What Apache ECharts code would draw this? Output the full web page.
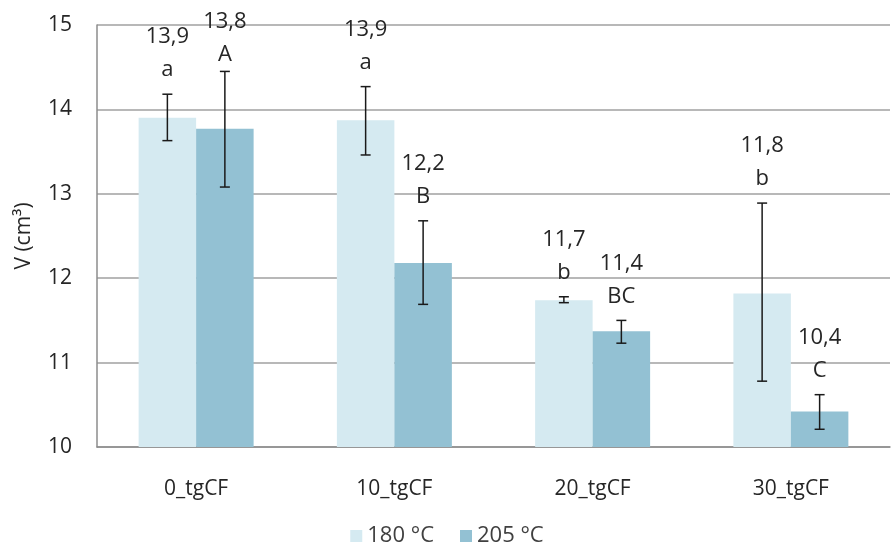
<!DOCTYPE html>
<html>
<head>
<meta charset="utf-8">
<script src="https://cdn.jsdelivr.net/npm/echarts@6/dist/echarts.min.js"></script>
<style>html,body{margin:0;padding:0;background:#fff}#c{width:894px;height:550px}</style>
</head>
<body>
<div id="c"></div>
<script>
var categories = ['0_tgCF', '10_tgCF', '20_tgCF', '30_tgCF'];
var seriesNames = ['180 °C', '205 °C'];
var values180 = [13.90, 13.87, 11.74, 11.82];
var values205 = [13.77, 12.18, 11.37, 10.42];
var errLow180 = [13.63, 13.46, 11.71, 10.78];
var errHigh180 = [14.18, 14.27, 11.78, 12.89];
var errLow205 = [13.08, 11.69, 11.23, 10.21];
var errHigh205 = [14.45, 12.68, 11.50, 10.62];
var letters180 = ['a', 'a', 'b', 'b'];
var letters205 = ['A', 'B', 'BC', 'C'];
var yTicks = [10, 11, 12, 13, 14, 15];

var FONT = '"Open Sans", "Noto Sans", sans-serif';
var colors = ['#D5EAF1', '#93C1D3'];
var catGap = 0.42;

function fmt(v) { return v.toFixed(1).replace('.', ','); }

function errSeries(idx, vals, lows, highs, letters) {
  var data = vals.map(function (v, i) { return [i, lows[i], highs[i], v, letters[i]]; });
  return {
    type: 'custom',
    z: 10,
    silent: true,
    renderItem: function (params, api) {
      var i = api.value(0);
      var band = api.size([1, 0])[0];
      var bw = band * (1 - catGap) / 2;
      var off = idx === 0 ? -bw / 2 : bw / 2;
      var lo = api.coord([i, api.value(1)]);
      var hi = api.coord([i, api.value(2)]);
      var x = lo[0] + off;
      var cap = 5;
      var st = { stroke: '#1a1a1a', lineWidth: 1.5 };
      var letterY = hi[1] - 24;
      var numY = letterY - 33;
      if (numY < 22) { var d = 22 - numY; numY += d; letterY += d; }
      return {
        type: 'group',
        children: [
          { type: 'line', shape: { x1: x, y1: lo[1], x2: x, y2: hi[1] }, style: st },
          { type: 'line', shape: { x1: x - cap, y1: lo[1], x2: x + cap, y2: lo[1] }, style: st },
          { type: 'line', shape: { x1: x - cap, y1: hi[1], x2: x + cap, y2: hi[1] }, style: st },
          { type: 'text', style: { x: x, y: numY, text: fmt(api.value(3)), textAlign: 'center', textVerticalAlign: 'middle', font: '22px ' + FONT, fill: '#262626' } },
          { type: 'text', style: { x: x, y: letterY, text: letters[i], textAlign: 'center', textVerticalAlign: 'middle', font: '22px ' + FONT, fill: '#262626' } }
        ]
      };
    },
    data: data
  };
}

var chart = echarts.init(document.getElementById('c'), null, { renderer: 'canvas' });
chart.setOption({
  animation: false,
  textStyle: { fontFamily: FONT },
  grid: { left: 97, right: 4, top: 25, bottom: 103 },
  legend: {
    data: seriesNames,
    bottom: -2,
    left: 'center',
    icon: 'rect',
    itemWidth: 12,
    itemHeight: 12,
    itemGap: 26,
    textStyle: { fontSize: 22, color: '#404040', fontFamily: FONT }
  },
  xAxis: {
    type: 'category',
    data: categories,
    axisLine: { lineStyle: { color: '#8c8c8c', width: 1.5 } },
    axisTick: { show: false },
    axisLabel: { fontSize: 21, color: '#262626', margin: 32, fontFamily: FONT }
  },
  yAxis: {
    type: 'value',
    min: yTicks[0],
    max: yTicks[yTicks.length - 1],
    interval: 1,
    name: 'V (cm³)',
    nameLocation: 'middle',
    nameGap: 62,
    nameTextStyle: { fontSize: 21, color: '#262626', fontFamily: FONT },
    axisLine: { show: true, lineStyle: { color: '#8c8c8c', width: 1.5 } },
    axisTick: { show: false },
    splitLine: { lineStyle: { color: '#a0a0a0', width: 1.5 } },
    axisLabel: { fontSize: 21, color: '#262626', margin: 25, fontFamily: FONT }
  },
  series: [
    { name: seriesNames[0], type: 'bar', data: values180, barGap: '0%', barCategoryGap: (catGap * 100) + '%', itemStyle: { color: colors[0] } },
    { name: seriesNames[1], type: 'bar', data: values205, barGap: '0%', barCategoryGap: (catGap * 100) + '%', itemStyle: { color: colors[1] } },
    errSeries(0, values180, errLow180, errHigh180, letters180),
    errSeries(1, values205, errLow205, errHigh205, letters205)
  ]
});
</script>
</body>
</html>
